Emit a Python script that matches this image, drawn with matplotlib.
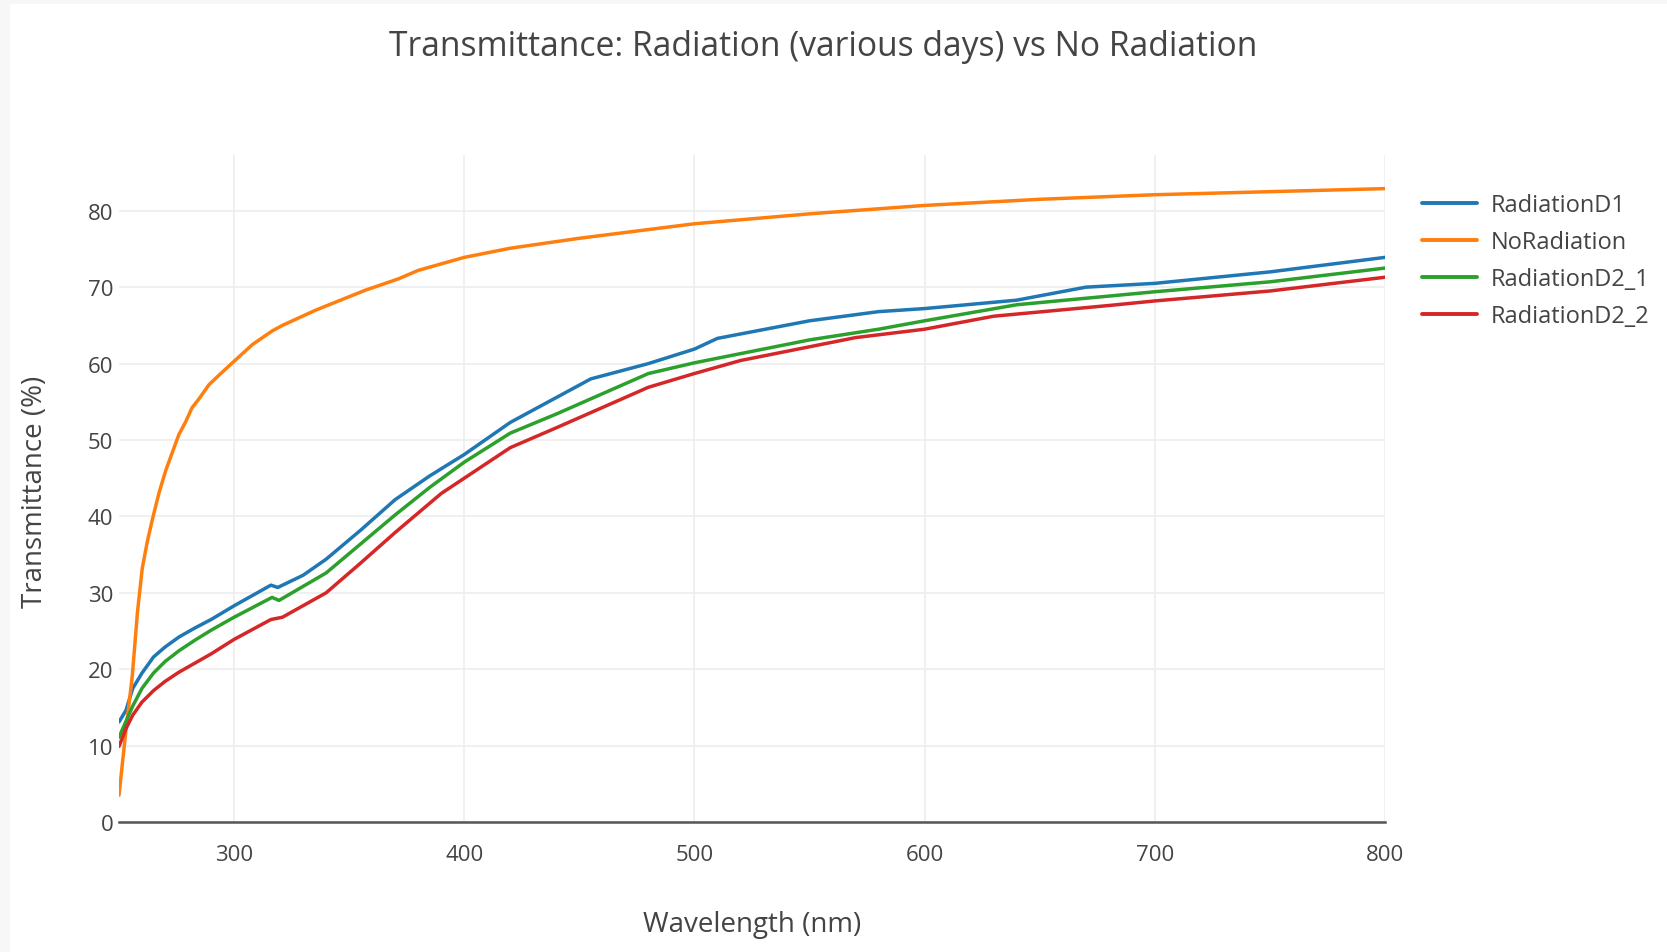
import numpy as np
import matplotlib.pyplot as plt
from matplotlib.patches import Rectangle

# Данные
wl_no_rad = [250, 252.9, 255.8, 258, 260.1, 262.3, 264.5, 267.4, 270.3, 273.2, 276, 279,
             281.7, 284.8, 289, 293.5, 300, 308, 316.7, 321, 335.5,
             357, 371.5, 380, 400, 420, 450, 500, 550, 600, 650, 700, 750, 800]
no_radiation = [3.5, 11.7, 19.2, 27.4, 33.2, 36.7, 39.6, 43.1, 46.0, 48.4, 50.7, 52.4,
                54.2, 55.4, 57.2, 58.5, 60.3, 62.5, 64.3, 65.0, 67.0,
                69.6, 71.1, 72.2, 73.9, 75.1, 76.4, 78.3, 79.6, 80.7, 81.5, 82.1, 82.5, 82.9]

wl_d1 = [250, 253, 256, 260, 265, 270, 276, 283, 290, 300, 316, 319, 330, 340, 355, 370,
         385, 400, 420, 455, 480, 500, 510, 550, 580, 600, 640, 670, 700, 750, 800]
radiation_d1 = [13.1, 14.6, 17.5, 19.5, 21.6, 22.9, 24.2, 25.4, 26.5, 28.3, 31.0, 30.7,
                32.3, 34.4, 38.2, 42.2, 45.3, 48.1, 52.3, 58.0, 60.0, 61.9, 63.3, 65.6,
                66.8, 67.2, 68.3, 70.0, 70.5, 72.0, 73.9]

wl_d2_1 = [250, 256, 260, 265, 270, 276, 283, 290, 300, 316.5, 319.5, 340, 370,
           385, 400, 420, 440, 480, 500, 550, 580, 600, 640, 700, 750, 800]
radiation_d2_1 = [11.1, 15.2, 17.5, 19.5, 21.0, 22.4, 23.8, 25.1, 26.8, 29.4, 29.0, 32.6,
                  40.2, 43.8, 47.1, 50.9, 53.4, 58.7, 60.1, 63.1, 64.5, 65.6, 67.7, 69.4,
                  70.7, 72.5]

wl_d2_2 = [250, 253, 256, 260, 265, 270, 276, 283, 290, 300, 316, 321, 340, 355, 370, 390,
           400, 420, 440, 480, 500, 520, 570, 600, 630, 680, 700, 750, 800]
radiation_d2_2 = [9.9, 12.2, 14.0, 15.7, 17.2, 18.4, 19.6, 20.8, 22.0, 23.9, 26.5, 26.8,
                  30.0, 33.9, 37.9, 43.0, 45.0, 49.0, 51.6, 56.9, 58.7, 60.4, 63.4, 64.5,
                  66.2, 67.6, 68.2, 69.5, 71.3]

x_ticks = [300, 400, 500, 600, 700, 800]
y_ticks = [0, 10, 20, 30, 40, 50, 60, 70, 80]

TEXT = '#444444'
plt.rcParams['font.family'] = ['Open Sans', 'DejaVu Sans']

fig = plt.figure(figsize=(16.67, 9.53), dpi=100, facecolor='#f7f7f7')
fig.patches.append(Rectangle((10 / 1667, 0), 1, 948 / 953, transform=fig.transFigure,
                             facecolor='white', edgecolor='none', zorder=-1))

ax = fig.add_axes([119 / 1667, 1 - 823 / 953, (1385 - 119) / 1667, (823 - 156) / 953])
ax.set_facecolor('white')

series = [
    (wl_d1, radiation_d1, 'RadiationD1', '#1f77b4'),
    (wl_no_rad, no_radiation, 'NoRadiation', '#ff7f0e'),
    (wl_d2_1, radiation_d2_1, 'RadiationD2_1', '#2ca02c'),
    (wl_d2_2, radiation_d2_2, 'RadiationD2_2', '#d62728'),
]
for xs, ys, name, color in series:
    ax.plot(xs, ys, color=color, lw=2.5, label=name, solid_capstyle='round',
            solid_joinstyle='round')

ax.set_xlim(250, 800)
ax.set_ylim(0, 87.3)
ax.set_xticks(x_ticks)
ax.set_yticks(y_ticks)
ax.grid(True, color='#eeeeee', lw=1.2)
ax.set_axisbelow(True)
for side in ['top', 'right', 'left']:
    ax.spines[side].set_visible(False)
ax.spines['bottom'].set_color('#555555')
ax.spines['bottom'].set_linewidth(1.8)
ax.tick_params(length=0, labelsize=16, labelcolor=TEXT)
ax.tick_params(axis='x', pad=16)
ax.tick_params(axis='y', pad=4)

fig.text(0.494, 0.951, 'Transmittance: Radiation (various days) vs No Radiation',
         ha='center', va='center', fontsize=24.2, color=TEXT)
fig.text(752 / 1667, 0.029, 'Wavelength (nm)', ha='center', va='center',
         fontsize=20, color=TEXT)
fig.text(35 / 1667, 0.484, 'Transmittance (%)', ha='center', va='center',
         rotation=90, fontsize=20, color=TEXT)

leg = fig.legend(loc='upper left', bbox_to_anchor=(1413 / 1667, 1 - 185 / 953),
                 frameon=False, fontsize=17, labelcolor=TEXT, handlelength=2.3,
                 handletextpad=0.6, labelspacing=0.55, borderaxespad=0)
for line in leg.get_lines():
    line.set_linewidth(2.8)

fig.savefig('out.png', dpi=100, facecolor=fig.get_facecolor())
